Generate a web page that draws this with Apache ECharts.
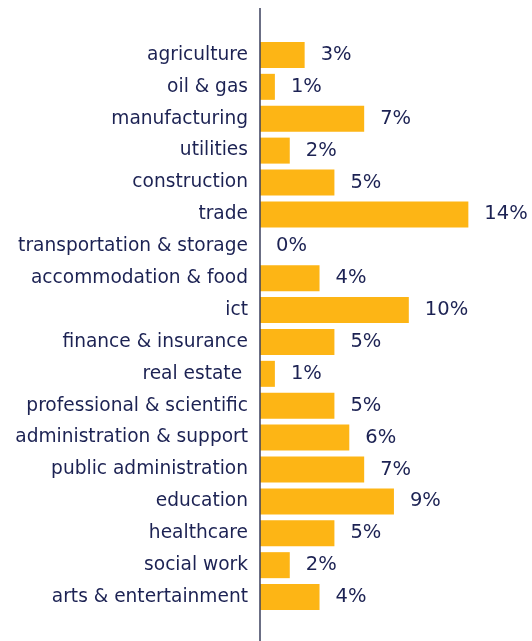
<!DOCTYPE html>
<html><head><meta charset="utf-8">
<script src="https://cdn.jsdelivr.net/npm/echarts@6/dist/echarts.min.js"></script>
<style>html,body{margin:0;padding:0;background:#fff}#c{width:532px;height:641px}</style>
</head><body><div id="c"></div>
<script>
const categories = ["agriculture","oil & gas","manufacturing","utilities","construction","trade","transportation & storage","accommodation & food","ict","finance & insurance","real estate ","professional & scientific","administration & support","public administration","education","healthcare","social work","arts & entertainment"];
const values = [3,1,7,2,5,14,0,4,10,5,1,5,6,7,9,5,2,4];

const navy = '#1c2253';
const gold = '#fdb515';
const chart = echarts.init(document.getElementById('c'));
chart.setOption({
  animation:false,
  grid:{left:260,right:19,top:39,bottom:28,containLabel:false},
  xAxis:{type:'value',min:0,max:17,show:false},
  yAxis:{type:'category',data:categories,inverse:true,
    axisLine:{show:false},axisTick:{show:false},
    axisLabel:{color:navy,fontFamily:'DejaVu Sans',fontSize:18.6,margin:12}},
  series:[{type:'bar',data:values,barWidth:26,itemStyle:{color:gold},
    label:{show:true,position:'right',distance:16,formatter:p=>p.value+'%',color:navy,fontFamily:'DejaVu Sans',fontSize:19.5}}],
  graphic:[{type:'line',shape:{x1:260,y1:8,x2:260,y2:641},style:{stroke:'#3a3f5c',lineWidth:1.5},z:10}]
});
</script></body></html>
